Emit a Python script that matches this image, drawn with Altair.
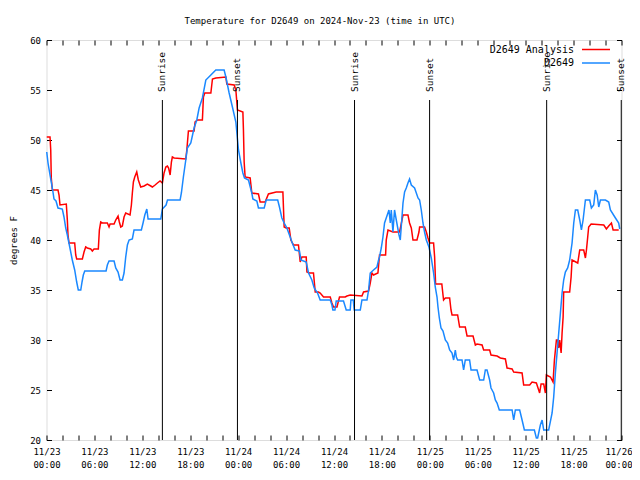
import altair as alt
import pandas as pd

FONT = "DejaVu Sans Mono"

# hours since 2024-11-23 00:00 UTC
blue_h = [0.03,0.19,0.44,0.60,0.81,0.94,1.19,1.44,1.98,2.19,
          2.41,2.61,2.91,3.23,3.53,3.78,3.98,4.29,4.45,4.61,
          4.79,7.46,7.62,7.83,8.46,8.67,8.96,9.21,9.50,9.71,
          9.92,10.13,10.34,10.75,10.96,11.88,12.09,12.31,12.56,12.72,
          14.31,14.51,14.97,15.15,16.73,16.89,17.14,17.44,17.64,18.07,
          18.48,18.82,19.11,19.52,19.95,20.58,21.20,22.24,22.46,22.87,
          23.28,23.71,24.04,24.34,24.59,24.79,25.29,25.71,25.84,26.34,
          26.54,27.26,27.51,28.95,29.17,29.47,29.76,30.10,30.51,30.73,
          31.14,31.68,31.85,32.52,32.81,33.23,33.52,33.94,34.27,35.53,
          35.74,35.86,36.12,36.28,37.19,37.53,38.03,38.12,38.41,38.53,
          39.29,39.50,40.13,40.33,40.54,40.95,41.38,41.58,41.70,41.92,
          42.13,42.33,42.54,42.88,43.05,43.17,43.38,43.58,43.80,44.14,
          44.30,44.42,44.64,44.84,45.05,45.26,45.46,45.68,46.09,46.52,
          46.72,46.93,47.14,47.34,47.56,47.89,48.18,48.47,48.68,48.90,
          49.02,49.19,49.40,49.65,49.94,50.23,50.48,50.78,50.98,51.19,
          51.32,51.48,52.03,52.23,52.44,52.98,53.16,53.91,54.24,54.74,
          54.95,55.16,55.49,55.66,55.99,56.20,56.42,56.70,58.30,58.50,
          58.71,59.25,59.55,59.84,61.09,61.34,61.50,61.84,62.06,62.26,
          62.88,63.31,63.51,63.72,63.93,64.14,64.35,64.56,64.76,64.97,
          65.26,65.51,65.81,66.02,66.23,66.52,66.77,66.98,67.19,67.48,
          68.02,68.23,68.52,68.73,68.95,69.15,69.36,69.99,70.40,70.61,
          71.24,71.65,71.78]
blue_t = [48.8,47.7,46.5,45.8,44.8,44.1,43.9,43.2,43.1,42.3,
          41.2,40.5,39.3,38.0,37.0,35.8,35.0,35.0,35.8,36.5,
          36.9,36.9,37.5,37.9,37.9,37.2,36.8,36.0,36.0,36.7,
          38.3,39.5,40.0,40.1,41.0,41.0,41.7,42.5,43.1,42.1,
          42.1,43.1,43.5,44.0,44.0,44.7,46.3,48.0,49.2,49.7,
          51.2,52.0,53.2,54.2,56.0,56.5,57.0,57.0,56.3,54.7,
          53.3,51.8,49.0,47.7,46.7,46.2,46.0,44.7,44.1,43.9,
          43.2,43.2,44.0,44.0,43.3,42.2,41.7,41.2,40.3,39.8,
          39.0,38.9,38.0,37.8,36.7,36.0,35.2,34.7,34.0,34.0,
          33.5,33.0,33.0,33.9,33.9,33.0,33.0,34.0,34.0,33.0,
          33.0,34.0,34.0,35.0,36.7,37.0,37.3,38.0,38.3,39.2,
          40.3,41.7,42.2,43.0,41.7,43.0,40.8,43.0,42.0,40.5,
          40.0,41.3,43.7,44.8,45.2,45.7,46.1,45.5,45.2,44.2,
          44.0,43.0,41.7,40.8,40.0,39.3,38.2,36.7,35.3,34.3,
          33.3,32.2,31.2,30.9,30.0,29.7,29.0,28.7,28.0,29.0,
          28.3,28.0,28.0,27.0,28.0,28.0,27.0,27.0,26.0,26.0,
          27.0,27.0,26.0,25.2,24.7,24.0,23.7,23.0,23.0,22.0,
          23.0,23.0,22.0,21.0,21.0,20.2,20.2,21.5,22.0,21.0,
          21.0,22.7,24.3,26.7,28.7,30.7,32.7,34.7,36.0,36.8,
          37.2,38.0,39.7,41.7,43.0,43.0,42.0,41.0,42.0,44.0,
          44.0,43.2,43.5,45.0,44.5,43.3,44.0,44.0,43.8,43.0,
          42.2,41.7,41.1]

red_h = [0.03,0.44,0.53,0.60,0.73,1.44,1.57,1.69,2.48,2.61,
         2.69,2.82,3.53,3.66,3.78,4.49,4.70,4.91,5.11,5.54,
         5.74,5.95,6.49,6.62,6.79,6.99,7.62,7.83,7.96,8.46,
         8.67,8.96,9.12,9.30,9.50,9.71,9.92,10.46,10.63,10.75,
         10.88,11.05,11.30,11.50,11.80,12.22,12.63,13.06,13.26,13.60,
         13.89,14.22,14.51,14.72,14.94,15.14,15.29,15.48,15.64,15.76,
         15.98,17.44,17.57,17.77,18.48,18.61,18.90,19.52,19.65,19.82,
         20.58,20.78,21.20,22.46,22.58,23.50,23.71,23.91,24.59,24.66,
         24.75,24.87,25.50,25.71,26.54,26.75,27.38,27.79,28.76,29.60,
         29.76,30.01,30.39,30.60,30.93,31.55,31.77,31.98,32.52,32.61,
         32.93,33.43,33.65,34.06,34.27,34.69,35.53,35.74,35.94,36.37,
         36.69,37.41,37.62,38.03,39.50,39.70,40.33,40.54,40.75,40.95,
         41.50,41.70,42.46,42.54,42.76,43.38,44.21,44.34,44.64,45.26,
         45.46,45.68,45.89,46.39,46.64,46.72,47.34,47.56,47.77,47.97,
         48.47,48.60,48.72,49.50,49.65,49.72,49.94,50.48,50.65,50.78,
         51.48,51.73,52.44,52.66,53.41,53.70,53.91,54.54,54.74,55.49,
         55.66,56.42,56.83,57.46,57.67,58.30,58.50,59.55,59.75,60.50,
         60.80,61.34,61.63,61.75,61.93,62.26,62.47,62.59,63.10,63.43,
         63.60,63.85,64.01,64.14,64.26,64.44,64.56,64.69,64.76,65.51,
         65.69,65.81,66.52,66.77,67.27,67.48,67.61,67.77,67.89,68.20,
         69.78,70.11,70.40,70.74,70.95,71.65]
red_t = [50.3,50.3,49.0,46.2,45.0,45.0,44.5,43.5,43.6,42.0,
         40.5,39.7,39.7,38.5,38.1,38.1,38.8,39.3,39.2,39.1,
         38.9,39.1,39.1,41.0,41.8,41.7,41.7,41.3,41.6,41.6,
         42.0,42.4,41.8,41.3,41.4,42.3,42.7,42.5,43.5,44.7,
         45.8,46.3,46.8,46.0,45.3,45.4,45.6,45.4,45.3,45.5,
         45.7,45.9,45.7,46.7,47.3,47.4,47.2,46.5,47.8,48.3,
         48.2,48.1,49.0,50.9,50.9,51.8,52.0,52.0,54.3,54.7,
         54.7,56.1,56.2,56.3,55.6,55.5,55.0,53.0,52.8,51.0,
         47.8,46.3,46.2,44.7,44.6,43.8,43.8,44.6,44.8,44.8,
         41.3,41.2,41.2,40.0,39.5,39.5,37.8,38.3,38.3,36.8,
         36.7,36.7,34.8,34.8,34.7,34.3,34.3,33.7,33.3,33.3,
         34.3,34.3,34.4,34.5,34.4,34.8,34.9,35.7,36.7,36.5,
         36.7,38.5,38.5,40.0,41.0,40.8,40.8,41.3,42.5,42.5,
         41.7,41.2,40.0,40.0,40.8,41.3,41.3,40.8,40.2,39.7,
         39.7,38.3,35.6,35.6,34.5,34.0,34.2,34.2,33.0,32.5,
         32.5,31.3,31.3,30.4,30.4,29.5,29.6,29.5,29.0,29.0,
         28.5,28.4,28.2,28.1,27.2,27.1,26.8,26.7,25.5,25.5,
         25.8,25.7,25.0,24.7,25.6,25.6,24.7,26.5,26.3,25.8,
         28.0,30.0,30.0,29.2,30.0,28.7,30.7,32.3,34.8,34.8,
         36.3,38.0,37.7,39.0,39.0,38.2,39.0,40.3,41.3,41.6,
         41.5,41.1,41.4,41.7,41.0,41.0]

sun_h = [14.51, 23.91, 38.57, 47.97, 62.63, 71.97]
sun_lbl = ["Sunrise", "Sunset", "Sunrise", "Sunset", "Sunrise", "Sunset"]

x_ticks = list(range(0, 73, 2))
y_ticks = [20, 25, 30, 35, 40, 45, 50, 55, 60]

series_names = ["D2649 Analysis", "D2649"]
series_colors = ["#ff0000", "#1a88ff"]

title_text = "Temperature for D2649 on 2024-Nov-23 (time in UTC)"

x_scale = alt.Scale(domain=[0, 72], nice=False, zero=False)
y_scale = alt.Scale(domain=[20, 60], nice=False, zero=False)

df_red = pd.DataFrame({"hour": red_h, "temp": red_t})
df_blue = pd.DataFrame({"hour": blue_h, "temp": blue_t})
df_sun = pd.DataFrame({"hour": sun_h, "event": sun_lbl})

label_expr = ("datum.value % 6 == 0 ? ['11/' + (23 + floor(datum.value / 24)), "
              "(datum.value % 24 < 10 ? '0' : '') + (datum.value % 24) + ':00'] : ''")

bottom_axis = alt.Axis(values=x_ticks, labelExpr=label_expr, offset=-5, tickSize=5,
                       domain=False, grid=False, labelFont=FONT, labelFontSize=9,
                       labelPadding=7, labelLineHeight=13, labelBaseline="top",
                       labelFlush=False, labelOverlap=False, labelColor="black",
                       labelOffset={"condition": {"test": "datum.value == 72", "value": -3},
                                    "value": 0},
                       tickColor="black", title=None)
left_axis = alt.Axis(values=y_ticks, offset=-5, tickSize=5, domain=False, grid=False,
                     labelFont=FONT, labelFontSize=9, labelPadding=6, labelColor="black",
                     tickColor="black", title="degrees F", titleFont=FONT, titleFontSize=9,
                     titleFontWeight="normal", titleColor="black", titleAngle=270,
                     titleX=-38.5, titleY=200, titleAlign="center", titleBaseline="middle")
top_axis = alt.Axis(orient="top", values=x_ticks, offset=-5, tickSize=5, domain=False,
                    grid=False, labels=False, title=None, tickColor="black")
right_axis = alt.Axis(orient="right", values=y_ticks, offset=-5, tickSize=5, domain=False,
                      grid=False, labels=False, title=None, tickColor="black")

red_line = alt.Chart(df_red).mark_line(color=series_colors[0], strokeWidth=1.5).encode(
    x=alt.X("hour:Q", scale=x_scale, axis=bottom_axis),
    y=alt.Y("temp:Q", scale=y_scale, axis=left_axis),
)
blue_line = alt.Chart(df_blue).mark_line(color=series_colors[1], strokeWidth=1.5).encode(
    x=alt.X("hour:Q", scale=x_scale, axis=None),
    y=alt.Y("temp:Q", scale=y_scale, axis=None),
)
sun_rules = alt.Chart(df_sun).mark_rule(color="black", strokeWidth=1).encode(
    x=alt.X("hour:Q", scale=x_scale, axis=top_axis),
    y=alt.YDatum(54, scale=y_scale, axis=right_axis),
    y2=alt.Y2Datum(20),
)
sun_text = alt.Chart(df_sun).mark_text(angle=270, align="left", baseline="middle",
                                       font=FONT, fontSize=9.5, color="black").encode(
    x=alt.X("hour:Q", scale=x_scale, axis=None),
    y=alt.YDatum(54.8, axis=None),
    text="event:N",
)

legend_layers = []
for name, col, ypos in zip(series_names, series_colors, [9.5, 23]):
    ldf = pd.DataFrame({"name": [name]})
    legend_layers.append(
        alt.Chart(ldf).mark_text(align="right", baseline="middle", font=FONT,
                                 fontSize=10, color="black").encode(
            x=alt.value(527.5), y=alt.value(ypos), text="name:N"))
    legend_layers.append(
        alt.Chart(ldf).mark_rule(color=col, strokeWidth=1.5).encode(
            x=alt.value(535.5), x2=alt.value(563.5), y=alt.value(ypos)))

chart = alt.layer(red_line, blue_line, sun_rules, sun_text, *legend_layers).resolve_axis(
    x="independent", y="independent"
).properties(
    width=575, height=400,
    autosize=alt.AutoSizeParams(type="none"),
    padding={"left": 38.5, "top": 32, "right": 10, "bottom": 32},
    title=alt.TitleParams(text=title_text, font=FONT, fontSize=9, fontWeight="normal",
                          color="black", anchor="middle", frame="group", dx=-14,
                          offset=1, baseline="bottom"),
).configure_view(stroke="black", strokeWidth=1).configure(background="white")

chart.save("out.html", embed_options={"renderer": "svg", "actions": False})
